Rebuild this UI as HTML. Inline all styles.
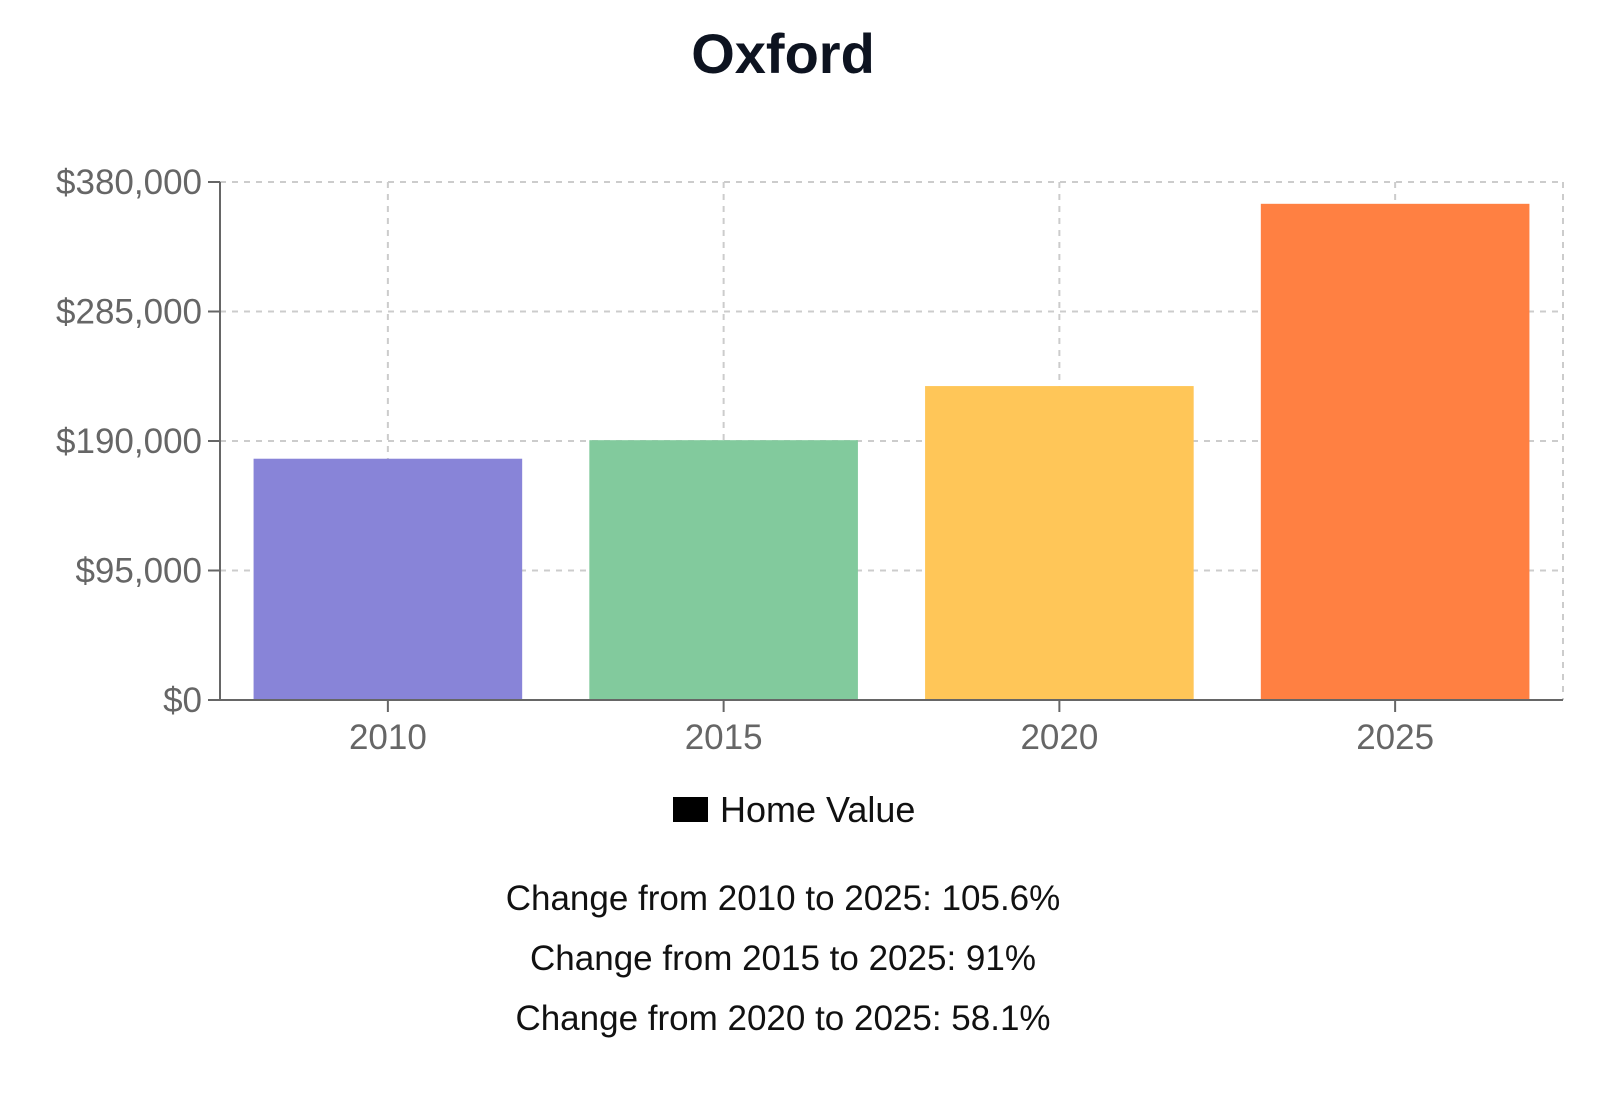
<!DOCTYPE html>
<html><head><meta charset="utf-8"><style>
body{margin:0;background:#fff;width:1600px;height:1097px;overflow:hidden;font-family:"Liberation Sans",sans-serif}
</style></head><body>
<svg id="chart" width="1600" height="1097" xmlns="http://www.w3.org/2000/svg" font-family="Liberation Sans, sans-serif">
<text x="783" y="73" text-anchor="middle" font-size="56" font-weight="bold" fill="#0d1320">Oxford</text>
<g id="grid"></g><g id="bars"></g><g id="axes"></g>
<rect x="673" y="797" width="35" height="25" fill="#000"/>
<text x="720" y="822" font-size="36" fill="#111">Home Value</text>
<text x="783" y="910" text-anchor="middle" font-size="35" fill="#111">Change from 2010 to 2025: 105.6%</text>
<text x="783" y="970" text-anchor="middle" font-size="35" fill="#111">Change from 2015 to 2025: 91%</text>
<text x="783" y="1030" text-anchor="middle" font-size="35" fill="#111">Change from 2020 to 2025: 58.1%</text>
</svg>
<script>
const categories=["2010","2015","2020","2025"];
const values=[177000,190600,230300,364000];
const colors=["#8884d8","#82ca9d","#ffc658","#ff8042"];
const yTicks=[0,95000,190000,285000,380000];
const yTickLabels=["$0","$95,000","$190,000","$285,000","$380,000"];
const NS="http://www.w3.org/2000/svg";
const L=220,R=1563,T=182,B=700,yMax=380000;
const band=(R-L)/categories.length;
function y(v){return B-(v/yMax)*(B-T);}
function xc(i){return L+band*(i+0.5);}
function mk(p,tag,a){const e=document.createElementNS(NS,tag);for(const k in a)e.setAttribute(k,a[k]);p.appendChild(e);return e;}
const grid=document.getElementById('grid'),bars=document.getElementById('bars'),axes=document.getElementById('axes');
yTicks.forEach((t,i)=>{
  if(t>0){const g=mk(grid,'line',{x1:L,x2:R,y1:y(t),y2:y(t),stroke:'#ccc','stroke-width':2,'stroke-dasharray':'6 6'});
  
  }
  const tk=mk(axes,'line',{x1:L-12,x2:L,y1:y(t),y2:y(t),stroke:'#666','stroke-width':2});
  
  
  const tx=mk(axes,'text',{x:L-18,y:y(t)+12,'text-anchor':'end','font-size':35,fill:'#666'});
  tx.textContent=yTickLabels[i];
  
  
});
categories.forEach((c,i)=>{
  const g=mk(grid,'line',{x1:xc(i),x2:xc(i),y1:T,y2:B,stroke:'#ccc','stroke-width':2,'stroke-dasharray':'6 6'});
  
  
  const w=band*0.8;
  const b=mk(bars,'rect',{x:xc(i)-w/2,y:y(values[i]),width:w,height:B-y(values[i]),fill:colors[i]});
  
  
  const tk=mk(axes,'line',{x1:xc(i),x2:xc(i),y1:B,y2:B+12,stroke:'#666','stroke-width':2});
  
  
  const tx=mk(axes,'text',{x:xc(i),y:B+49,'text-anchor':'middle','font-size':35,fill:'#666'});
  tx.textContent=c;
  
  
});
const rg=mk(grid,'line',{x1:R,x2:R,y1:T,y2:B,stroke:'#ccc','stroke-width':2,'stroke-dasharray':'6 6'});


const ya=mk(axes,'line',{x1:L,x2:L,y1:T,y2:B,stroke:'#666','stroke-width':2});


const xa=mk(axes,'line',{x1:L,x2:R,y1:B,y2:B,stroke:'#666','stroke-width':2});


</script>
</body></html>
